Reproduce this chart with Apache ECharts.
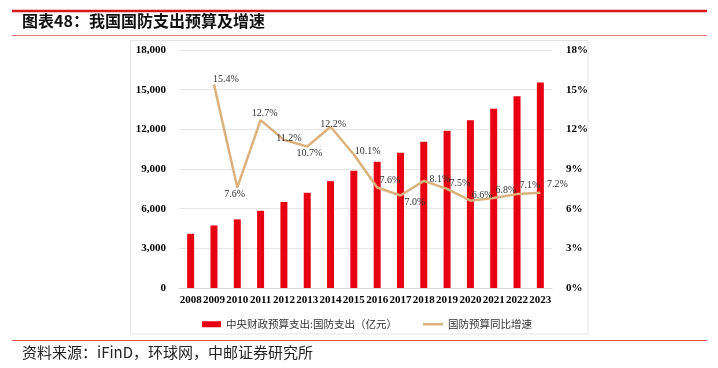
<!DOCTYPE html>
<html>
<head>
<meta charset="utf-8">
<script src="https://cdn.jsdelivr.net/npm/echarts@6/dist/echarts.min.js"></script>
<style>
html,body{margin:0;padding:0;background:#fff;}
#c{width:718px;height:368px;}
</style>
</head>
<body>
<div id="c"></div>
<script>
// ---- data ----
const years = ['2008','2009','2010','2011','2012','2013','2014','2015','2016','2017','2018','2019','2020','2021','2022','2023'];
const budget = [4099, 4729, 5191, 5836, 6503, 7202, 8082, 8869, 9544, 10226, 11070, 11898, 12680, 13553, 14504, 15537];
const growth = [null, 15.4, 7.6, 12.7, 11.2, 10.7, 12.2, 10.1, 7.6, 7.0, 8.1, 7.5, 6.6, 6.8, 7.1, 7.2];
const leftTicks = {min: 0, max: 18000, interval: 3000};
const rightTicks = {min: 0, max: 18, interval: 3};
const titleText = '图表48：我国国防支出预算及增速';
const sourceText = '资料来源：iFinD，环球网，中邮证券研究所';
const barName = '中央财政预算支出:国防支出（亿元）';
const lineName = '国防预算同比增速';

// ---- label placement (style, kept apart from data) ----
const labelLayout = [
  null,
  ['right', -6, -5],
  ['bottom', -2.5, -3.5],
  ['top', 4, 3],
  ['top', 5, 8],
  ['bottom', 2.3, -3],
  ['top', 2.7, 8],
  ['right', -4, -3],
  ['right', -2.6, -7.5],
  ['right', -1, 7],
  ['right', 0.6, -2],
  ['right', -2.7, -5.5],
  ['right', -3.6, -5.7],
  ['right', -3.1, -8],
  ['right', -2.5, -9],
  ['right', 1.6, -8.5]
];

const serif = '"Liberation Serif","Times New Roman",serif';
const cjk = '"Noto Sans CJK SC","Noto Sans",sans-serif';
const lineColor = '#DBB27E';

const chart = echarts.init(document.getElementById('c'), null, {renderer: 'canvas'});

const lineData = growth.map((v, i) => {
  if (v == null) return '-';
  const L = labelLayout[i];
  return {value: v, label: {position: L[0], offset: [L[1], L[2]]}};
});

const legendText = {fontFamily: cjk, fontSize: 10.5, color: '#333'};

chart.setOption({
  backgroundColor: '#fff',
  animation: false,
  graphic: [
    {type: 'line', shape: {x1: 12, y1: 11, x2: 707, y2: 11}, style: {stroke: '#D7191F', lineWidth: 2.5}},
    {type: 'text', left: 22, top: 13, style: {text: titleText, font: 'bold 16px ' + cjk, fill: '#111'}},
    {type: 'line', shape: {x1: 12, y1: 35.5, x2: 707, y2: 35.5}, style: {stroke: '#E57B7E', lineWidth: 1.2}},
    {type: 'rect', shape: {x: 130.5, y: 40.5, width: 457.5, height: 293.5}, style: {fill: 'none', stroke: '#e4e4e4', lineWidth: 1}},
    {type: 'line', shape: {x1: 12, y1: 340.5, x2: 707, y2: 340.5}, style: {stroke: '#E84A4A', lineWidth: 1.2}},
    {type: 'text', left: 22, top: 345, style: {text: sourceText, font: '15px ' + cjk, fill: '#222'}}
  ],
  grid: {left: 179, right: 166, top: 50, bottom: 80, containLabel: false},
  legend: [
    {
      left: 197, top: 314,
      itemWidth: 19, itemHeight: 6,
      textStyle: legendText,
      data: [{name: barName, icon: 'rect'}]
    },
    {
      left: 418, top: 314,
      itemWidth: 20, itemHeight: 2.5,
      textStyle: legendText,
      data: [{name: lineName, icon: 'rect', itemStyle: {color: lineColor}}]
    }
  ],
  xAxis: {
    type: 'category',
    data: years,
    axisLine: {show: true, lineStyle: {color: '#d9d9d9'}},
    axisTick: {show: false},
    axisLabel: {margin: 7, fontFamily: serif, fontWeight: 'bold', fontSize: 11, color: '#000', interval: 0}
  },
  yAxis: [
    {
      type: 'value', min: leftTicks.min, max: leftTicks.max, interval: leftTicks.interval,
      axisLine: {show: false}, axisTick: {show: false},
      splitLine: {lineStyle: {color: '#e6e6e6', width: 1}},
      axisLabel: {margin: 13, fontFamily: serif, fontWeight: 'bold', fontSize: 11, color: '#000',
        formatter: v => v.toLocaleString('en-US')}
    },
    {
      type: 'value', min: rightTicks.min, max: rightTicks.max, interval: rightTicks.interval,
      axisLine: {show: false}, axisTick: {show: false}, splitLine: {show: false},
      axisLabel: {margin: 14, fontFamily: serif, fontWeight: 'bold', fontSize: 11, color: '#000',
        formatter: v => v + '%'}
    }
  ],
  series: [
    {
      name: barName, type: 'bar', data: budget, barWidth: 7,
      itemStyle: {color: '#E60012'}
    },
    {
      name: lineName, type: 'line', yAxisIndex: 1, data: lineData,
      symbol: 'circle', symbolSize: 0.01, showSymbol: true,
      lineStyle: {color: lineColor, width: 2.5},
      itemStyle: {color: lineColor},
      label: {show: true, fontFamily: serif, fontSize: 10, color: '#333',
        formatter: p => Number(p.value).toFixed(1) + '%'}
    }
  ]
});
</script>
</body>
</html>
